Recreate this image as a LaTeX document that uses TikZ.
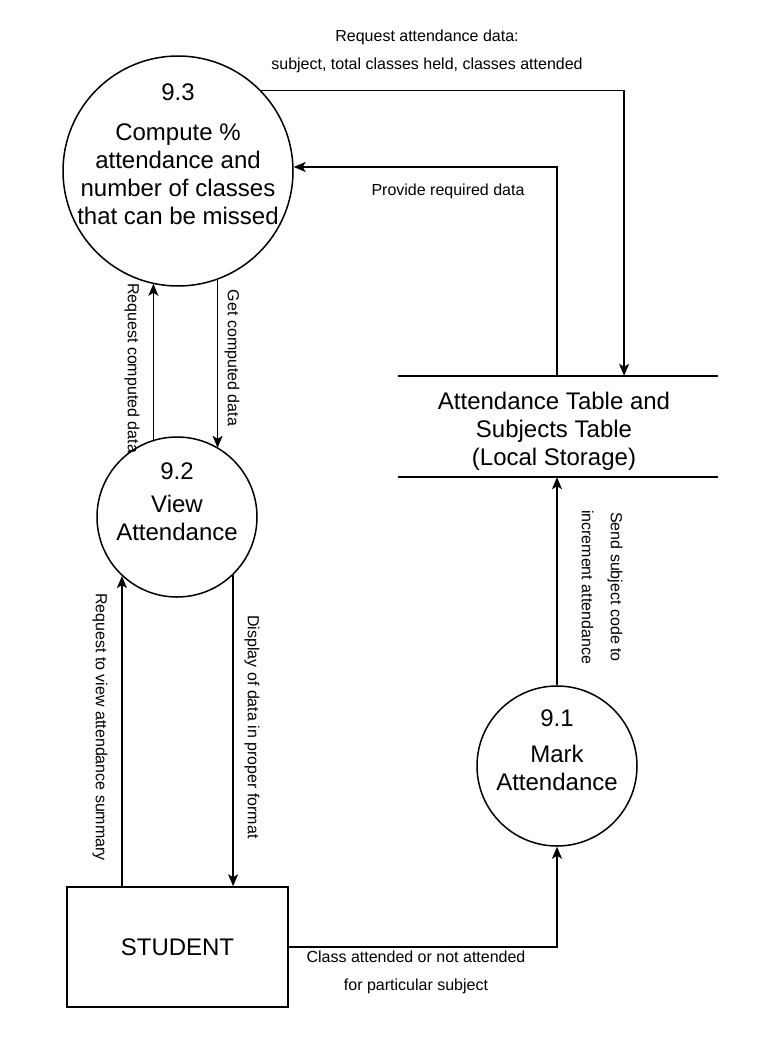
\documentclass[tikz,border=0pt]{standalone}
\usepackage{fontspec}
\setmainfont{Liberation Sans}
\usetikzlibrary{arrows.meta,calc}
\begin{document}
\begin{tikzpicture}[x=1pt,y=-1pt,
  proc/.style={circle,draw,line width=1.5pt,inner sep=0pt},
  ptext/.style={align=center,font=\fontsize{24}{28}\selectfont,inner sep=0pt},
  lbl/.style={align=center,font=\fontsize{16}{26}\selectfont,inner sep=0pt},
  flow/.style={line width=1.5pt,-{Stealth[length=12pt,width=10pt,inset=3pt]}},
  store/.style={minimum width=320pt,minimum height=101pt,inner sep=0pt},
  entity/.style={draw,line width=1.5pt,minimum width=221pt,minimum height=120pt,inner sep=0pt,font=\fontsize{24}{28}\selectfont},
]
\useasboundingbox[fill=white] (0,0) rectangle (757,1057);

% processes
\node[proc,minimum size=230pt] (c93) at (178,171) {};
\node[ptext] (t93) at (178,154) {9.3\\[12pt]Compute \%\\attendance and\\number of classes\\that can be missed};

\node[proc,minimum size=160pt] (c92) at (177,517) {};
\node[ptext] (t92) at (177,501.5) {9.2\\[5pt]View\\Attendance};

\node[proc,minimum size=160pt] (c91) at (557,766) {};
\node[ptext] (t91) at (557,750.5) {9.1\\[8pt]Mark\\Attendance};

% data store
\node[store] (ds) at (558,426.5) {};
\draw[line width=1.5pt] (ds.north west) -- (ds.north east);
\draw[line width=1.5pt] (ds.south west) -- (ds.south east);
\node[ptext] (tds) at (554,431) {Attendance Table and\\Subjects Table\\(Local Storage)};
\coordinate (dsin) at ($(ds.north west)!0.70625!(ds.north east)$);
\coordinate (dsout) at ($(ds.north west)!0.4969!(ds.north east)$);

% entity
\node[entity] (st) at (177.5,947) {STUDENT};

% flows
\draw[flow] (c93.44.8) -| (dsin);
\draw[flow] (dsout) |- (c93.2.5);
\draw[flow] (c92.107.5) -- (c92.107.5 |- c93.257.4);
\draw[flow] (c93.290.4) -- (c93.290.4 |- c92.59.2);
\draw[flow] (st.north -| c92.227.5) -- (c92.227.5);
\draw[flow] (c92.314.5) -- (c92.314.5 |- st.north);
\draw[flow] (c91.north) -- (c91.north |- ds.south);
\draw[flow] (st.east) -| (c91.south);

% labels
\node[lbl] (l1) at (427,51.6) {Request attendance data:\\[2pt]subject, total classes held, classes attended};
\node[lbl] (l2) at (448,191) {Provide required data};
\node[lbl,rotate=-90] (l3) at (132,368) {Request computed data};
\node[lbl,rotate=-90] (l4) at (232,358) {Get computed data};
\node[lbl,rotate=-90] (l5) at (100,727) {Request to view attendance summary};
\node[lbl,rotate=-90] (l6) at (252,727) {Display of data in proper format};
\node[lbl,rotate=-90,font=\fontsize{16}{29}\selectfont] (l7) at (602,587) {Send subject code to\\increment attendance};
\node[lbl] (l8) at (416,972.7) {Class attended or not attended\\[2pt]for particular subject};
\end{tikzpicture}
\end{document}
